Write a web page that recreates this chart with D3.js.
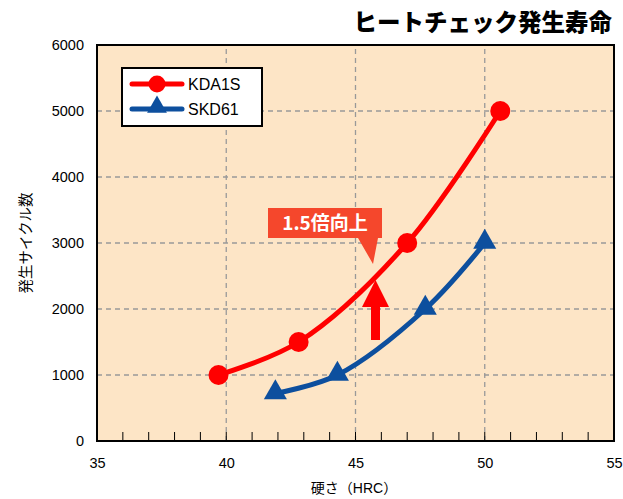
<!DOCTYPE html>
<html><head><meta charset="utf-8">
<script src="https://cdn.jsdelivr.net/npm/d3@7"></script>
<style>body{margin:0;background:#fff}svg{display:block}</style>
</head><body>
<script>
const xTicks = [35, 40, 45, 50, 55];
const yTicks = [0, 1000, 2000, 3000, 4000, 5000, 6000];
const kdaX = [39.7, 42.8, 47.0, 50.6];
const kdaY = [1000, 1500, 3000, 5000];
const skdX = [41.9, 44.3, 47.7, 50.0];
const skdY = [720, 1000, 2000, 3000];
const seriesNames = ["KDA1S", "SKD61"];
const title = "ヒートチェック発生寿命";
const xLabel = "硬さ（HRC）";
const yLabel = "発生サイクル数";
const note = "1.5倍向上";

const W = 623, H = 499;
const m = {l: 97, r: 9, t: 45, b: 58};
const svg = d3.select("body").append("svg").attr("width", W).attr("height", H);
const x = d3.scaleLinear().domain([35, 55]).range([m.l, W - m.r]);
const y = d3.scaleLinear().domain([0, 6000]).range([H - m.b, m.t]);
const font = "'Liberation Sans', Arial, 'Noto Sans CJK JP', sans-serif";

svg.append("rect").attr("x", x(35)).attr("y", y(6000)).attr("width", x(55) - x(35)).attr("height", y(0) - y(6000)).attr("fill", "#FDE5C6");

// grid
svg.append("g").selectAll("line").data(yTicks.filter(d => d > 0 && d < 6000)).join("line")
  .attr("x1", x(35)).attr("x2", x(55)).attr("y1", d => y(d)).attr("y2", d => y(d))
  .attr("stroke", "#999").attr("stroke-width", 1.3).attr("stroke-dasharray", "5,4");
svg.append("g").selectAll("line").data(xTicks.filter(d => d > 35 && d < 55)).join("line")
  .attr("y1", y(0)).attr("y2", y(6000)).attr("x1", d => x(d)).attr("x2", d => x(d))
  .attr("stroke", "#999").attr("stroke-width", 1.3).attr("stroke-dasharray", "5,4");

// minor ticks inside bottom
svg.append("g").selectAll("line").data(d3.range(36, 55)).join("line")
  .attr("x1", d => x(d)).attr("x2", d => x(d)).attr("y1", y(0)).attr("y2", y(0) - 9)
  .attr("stroke", "#000").attr("stroke-width", 1);

// axes labels
const xa = svg.append("g").attr("transform", `translate(0,${y(0)})`)
  .call(d3.axisBottom(x).tickValues(xTicks).tickSize(0).tickPadding(17));
xa.select(".domain").remove();
xa.selectAll("text").attr("font-family", font).attr("font-size", 14.5).attr("fill", "#000");
const ya = svg.append("g").attr("transform", `translate(${x(35)},0)`)
  .call(d3.axisLeft(y).tickValues(yTicks).tickFormat(d3.format("d")).tickSize(0).tickPadding(13));
ya.select(".domain").remove();
ya.selectAll("text").attr("font-family", font).attr("font-size", 14.5).attr("fill", "#000");

svg.append("rect").attr("x", x(35)).attr("y", y(6000)).attr("width", x(55) - x(35)).attr("height", y(0) - y(6000))
  .attr("fill", "none").attr("stroke", "#000").attr("stroke-width", 2);

svg.append("text").attr("x", 354).attr("y", 493).attr("text-anchor", "middle")
  .attr("font-family", font).attr("font-size", 14).text(xLabel);
svg.append("text").attr("transform", "translate(31,243) rotate(-90)").attr("text-anchor", "middle")
  .attr("font-family", font).attr("font-size", 14.5).text(yLabel);
svg.append("text").attr("x", 612).attr("y", 31).attr("text-anchor", "end")
  .attr("font-family", "'Noto Sans CJK JP', sans-serif").attr("font-weight", 900).attr("font-size", 23.5).text(title);

// series
const line = d3.line().x(d => x(d[0])).y(d => y(d[1])).curve(d3.curveCatmullRom.alpha(0.5));
const kda = kdaX.map((v, i) => [v, kdaY[i]]);
const skd = skdX.map((v, i) => [v, skdY[i]]);
const red = "#FF0000", blue = "#0D4F9E";
svg.append("path").attr("d", line(kda)).attr("fill", "none").attr("stroke", red).attr("stroke-width", 5);
svg.append("path").attr("d", line(skd)).attr("fill", "none").attr("stroke", blue).attr("stroke-width", 5);
svg.append("g").selectAll("circle").data(kda).join("circle")
  .attr("cx", d => x(d[0])).attr("cy", d => y(d[1])).attr("r", 10).attr("fill", red);
const tri = d3.symbol().type(d3.symbolTriangle).size(230);
svg.append("g").selectAll("path").data(skd).join("path")
  .attr("transform", d => `translate(${x(d[0])},${y(d[1]) - 1})`).attr("d", tri).attr("fill", blue);

// legend
const lg = svg.append("g");
lg.append("rect").attr("x", 122).attr("y", 68).attr("width", 140).attr("height", 58).attr("fill", "#fff").attr("stroke", "#000").attr("stroke-width", 2);
[[red, 84], [blue, 109]].forEach(([c, yy], i) => {
  lg.append("line").attr("x1", 132).attr("x2", 182).attr("y1", yy).attr("y2", yy).attr("stroke", c).attr("stroke-width", 5).attr("stroke-linecap", "round");
  if (i === 0) lg.append("circle").attr("cx", 157).attr("cy", yy).attr("r", 8.5).attr("fill", c);
  else lg.append("path").attr("transform", `translate(157,${yy - 2})`).attr("d", d3.symbol().type(d3.symbolTriangle).size(170)).attr("fill", c);
  lg.append("text").attr("x", 188).attr("y", yy + 6).attr("font-family", font).attr("font-size", 16).text(seriesNames[i]);
});

// annotation
const orange = "#F5472C";
svg.append("path").attr("d", "M268,208 H382 V238 H378 L373,264 L358,238 H268 Z").attr("fill", orange);
svg.append("text").attr("x", 325).attr("y", 230).attr("text-anchor", "middle")
  .attr("font-family", "'Noto Sans CJK JP', sans-serif").attr("font-weight", 700).attr("font-size", 19).attr("fill", "#fff").text(note);
svg.append("path").attr("d", "M371,340 V307 H362 L375.5,280 L389,307 H380 V340 Z").attr("fill", red);
</script>
</body></html>
